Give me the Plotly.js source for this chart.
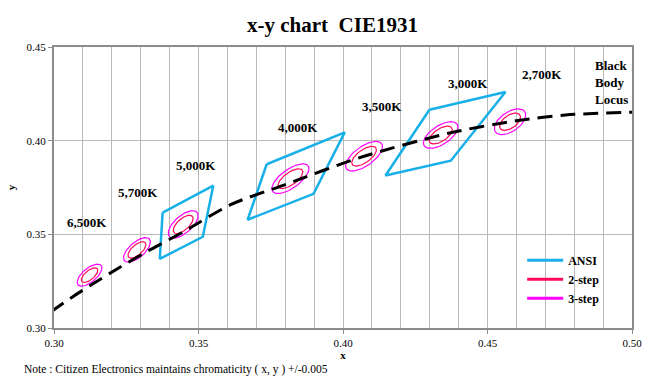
<!DOCTYPE html>
<html>
<head>
<meta charset="utf-8">
<script src="https://cdn.plot.ly/plotly-3.0.1.min.js"></script>
<style>html,body{margin:0;padding:0;background:#fff;}#chart{width:665px;height:388px;}</style>
</head>
<body>
<div id="chart"></div>
<script>
// ---- Data ----
const cctLabels   = ['6,500K','5,700K','5,000K','4,000K','3,500K','3,000K','2,700K'];
const ellipseCx   = [0.3123, 0.3287, 0.3447, 0.3818, 0.4073, 0.4338, 0.4578];
const ellipseCy   = [0.3282, 0.3417, 0.3553, 0.3797, 0.3917, 0.4030, 0.4101];
const ellipseA    = [0.00223, 0.00246, 0.00274, 0.00313, 0.00309, 0.00278, 0.00258]; // 1-step semi-major
const ellipseB    = [0.00095, 0.00105, 0.00118, 0.00134, 0.00138, 0.00136, 0.00137]; // 1-step semi-minor
const ellipseDeg  = [58.23, 59.09, 59.62, 53.72, 54.00, 53.22, 57.28];
const stepNames   = ['2-step', '3-step'];
const stepSizes   = [2, 3];

const ansiNames = ['5,000K', '4,000K', '3,000K'];
const ansiX = [[0.3376, 0.3551, 0.3515, 0.3366],
               [0.3736, 0.4006, 0.3898, 0.3670],
               [0.4299, 0.4562, 0.4373, 0.4147]];
const ansiY = [[0.3616, 0.3760, 0.3487, 0.3369],
               [0.3874, 0.4044, 0.3716, 0.3578],
               [0.4165, 0.4260, 0.3893, 0.3814]];

const locusX = [0.2990, 0.3064, 0.3135, 0.3221, 0.3324, 0.3451, 0.3611, 0.3805, 0.4053, 0.4369, 0.4599, 0.4770, 0.5018];
const locusY = [0.3087, 0.3166, 0.3236, 0.3318, 0.3410, 0.3516, 0.3658, 0.3768, 0.3907, 0.4041, 0.4106, 0.4137, 0.4153];

const xTicks = [0.30, 0.35, 0.40, 0.45, 0.50];
const yTicks = [0.30, 0.35, 0.40, 0.45];

// ---- Build traces ----
const COL_ANSI = '#18b0e8', COL_2 = '#ff0a5a', COL_3 = '#ff00ff';
const serif = 'Liberation Serif, Times New Roman, serif';

function ellipsePath(step) {
  const xs = [], ys = [];
  for (let i = 0; i < ellipseCx.length; i++) {
    const a = ellipseA[i] * step, b = ellipseB[i] * step;
    const th = ellipseDeg[i] * Math.PI / 180;
    for (let k = 0; k <= 72; k++) {
      const t = 2 * Math.PI * k / 72;
      xs.push(ellipseCx[i] + a * Math.cos(t) * Math.cos(th) - b * Math.sin(t) * Math.sin(th));
      ys.push(ellipseCy[i] + a * Math.cos(t) * Math.sin(th) + b * Math.sin(t) * Math.cos(th));
    }
    xs.push(null); ys.push(null);
  }
  return {xs, ys};
}

const qx = [], qy = [];
ansiX.forEach((arr, i) => {
  arr.forEach((v, j) => { qx.push(v); qy.push(ansiY[i][j]); });
  qx.push(arr[0]); qy.push(ansiY[i][0]);
  qx.push(null); qy.push(null);
});

const traces = [];
traces.push({x: qx, y: qy, mode: 'lines', name: 'ANSI', showlegend: false,
  line: {color: COL_ANSI, width: 2.5}, hoverinfo: 'skip'});
const stepColors = [COL_2, COL_3];
stepSizes.forEach((s, i) => {
  const p = ellipsePath(s);
  traces.push({x: p.xs, y: p.ys, mode: 'lines', name: stepNames[i], showlegend: false,
    line: {color: stepColors[i], width: 1.2}, hoverinfo: 'skip'});
});
traces.push({x: locusX, y: locusY, mode: 'lines', name: 'Black Body Locus', showlegend: false,
  line: {color: '#000', width: 3, dash: '15px,8px', shape: 'spline', smoothing: 0.8}, hoverinfo: 'skip'});
// legend entries
[['ANSI', COL_ANSI], [stepNames[0], COL_2], [stepNames[1], COL_3]].forEach(([n, c]) => {
  traces.push({x: [null], y: [null], mode: 'lines', name: n, line: {color: c, width: 3}});
});

// ---- Annotations ----
const labelPos = [[0.3114, 0.3562], [0.3291, 0.3721], [0.3491, 0.3870], [0.3844, 0.4069],
                  [0.4135, 0.4181], [0.4433, 0.4306], [0.4690, 0.4351]];
const annotations = cctLabels.map((t, i) => ({
  x: labelPos[i][0], y: labelPos[i][1], xref: 'x', yref: 'y', text: '<b>' + t + '</b>',
  showarrow: false, font: {family: serif, size: 13, color: '#000'}
}));
annotations.push({x: 0.4865, y: 0.4313, xref: 'x', yref: 'y', xanchor: 'left',
  text: '<b>Black<br>Body<br>Locus</b>', align: 'left', showarrow: false,
  font: {family: serif, size: 13, color: '#000'}});
annotations.push({x: -0.055, y: -0.149, xref: 'paper', yref: 'paper', xanchor: 'left', yanchor: 'middle',
  text: 'Note : Citizen Electronics maintains chromaticity ( x, y ) +/-0.005', showarrow: false,
  font: {family: serif, size: 11.5, color: '#000'}});

const axisCommon = {
  showline: true, mirror: true, linecolor: '#8c8c8c', linewidth: 2,
  ticks: 'outside', ticklen: 4, tickcolor: '#8c8c8c', zeroline: false,
  showgrid: true, gridcolor: '#b9b9b9', gridwidth: 1,
  tickformat: '.2f', tickfont: {family: serif, size: 11, color: '#000'}
};

const layout = {
  width: 665, height: 388,
  margin: {l: 54, r: 33, t: 47, b: 60},
  paper_bgcolor: '#fff', plot_bgcolor: '#fff',
  title: {text: '<b>x-y chart\u00a0\u00a0CIE1931</b>', x: 0.5, xref: 'container', y: 0.955, yref: 'container',
    font: {family: serif, size: 21, color: '#000'}},
  xaxis: Object.assign({}, axisCommon, {
    range: [0.30, 0.50], tickvals: xTicks,
    minor: {dtick: 0.01, tick0: 0.30, showgrid: true, gridcolor: '#b9b9b9', gridwidth: 1, ticks: ''},
    title: {text: '<b>x</b>', font: {family: serif, size: 11, color: '#000'}, standoff: 3}
  }),
  yaxis: Object.assign({}, axisCommon, {
    range: [0.30, 0.45], tickvals: yTicks,
    title: {text: '<b>y</b>', font: {family: serif, size: 11, color: '#000'}, standoff: 9}
  }),
  showlegend: true,
  legend: {x: 0.81, y: 0.293, xanchor: 'left', yanchor: 'top', bgcolor: 'rgba(0,0,0,0)',
    font: {family: serif, size: 12, color: '#000', weight: 'bold'}, tracegroupgap: 0, itemwidth: 36},
  annotations: annotations
};

Plotly.newPlot('chart', traces, layout, {staticPlot: true, displayModeBar: false});
</script>
</body>
</html>
